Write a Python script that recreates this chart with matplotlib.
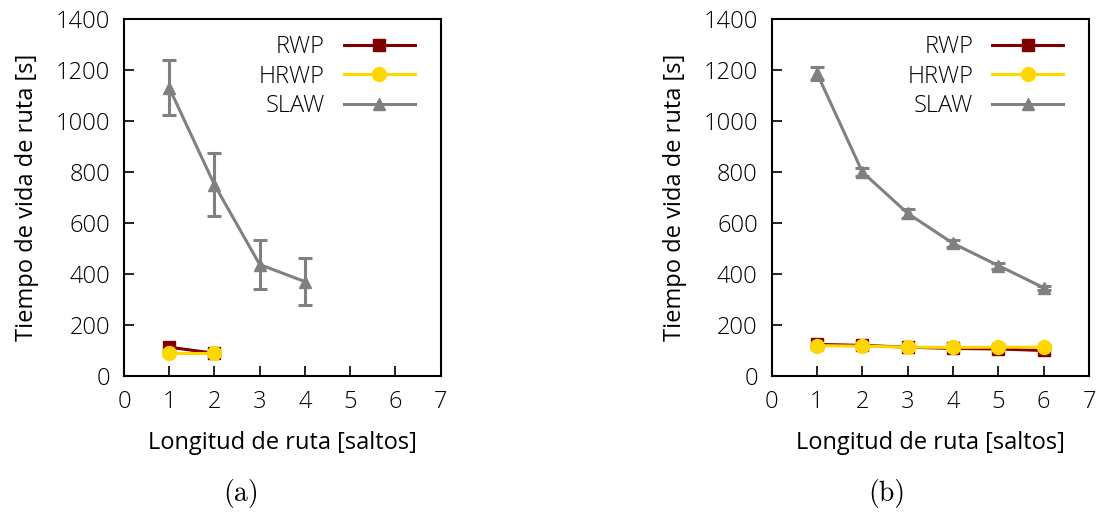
import matplotlib
matplotlib.use("Agg")
import matplotlib.pyplot as plt
from matplotlib.lines import Line2D

plt.rcParams['font.family'] = ['Open Sans', 'DejaVu Sans']
plt.rcParams['font.weight'] = 'light'

# Panel (a)
a_x_slaw = [1, 2, 3, 4]
a_slaw = [1130, 750, 437, 370]
a_slaw_err = [108, 123, 97, 92]
a_x_rwp = [1, 2]
a_rwp = [113, 89]
a_hrwp = [89, 89]

# Panel (b)
b_x = [1, 2, 3, 4, 5, 6]
b_slaw = [1187, 800, 638, 520, 433, 346]
b_slaw_err = [25, 15, 18, 15, 12, 8]
b_rwp = [124, 120, 113, 108, 106, 100]
b_hrwp = [119, 117, 113, 112, 113, 113]

xticks = [0, 1, 2, 3, 4, 5, 6, 7]
yticks = [0, 200, 400, 600, 800, 1000, 1200, 1400]
captions = ['(a)', '(b)']
series_names = ['RWP', 'HRWP', 'SLAW']

C_RWP = '#800000'
C_HRWP = '#FFD700'
C_SLAW = '#808080'

FS = 17

fig = plt.figure(figsize=(11, 5.14), dpi=100)
ax1 = fig.add_axes([0.1127, 0.2685, 0.2879, 0.6946])
ax2 = fig.add_axes([0.7015, 0.2685, 0.2885, 0.6946])

def draw(ax, xr, rwp, hrwp, xs, slaw, err, cap, capx):
    lw = 2.2
    ax.plot(xr, rwp, color=C_RWP, lw=lw, marker='s', ms=9, zorder=3)
    ax.plot(xr, hrwp, color=C_HRWP, lw=lw, marker='o', ms=10, zorder=4)
    ax.errorbar(xs, slaw, yerr=err, color=C_SLAW, lw=lw, marker='^', ms=9,
                capsize=5, capthick=lw, elinewidth=lw, zorder=2)
    handles = [
        Line2D([], [], color=C_RWP, lw=lw, marker='s', ms=9),
        Line2D([], [], color=C_HRWP, lw=lw, marker='o', ms=10),
        Line2D([], [], color=C_SLAW, lw=lw, marker='^', ms=9),
    ]
    ax.set_xlim(0, 7)
    ax.set_ylim(0, 1400)
    ax.set_xticks(xticks)
    ax.set_yticks(yticks)
    ax.tick_params(direction='in', length=7, width=1.2, labelsize=FS,
                   top=False, right=False, pad=10)
    for s in ax.spines.values():
        s.set_linewidth(1.5)
    ax.set_xlabel('Longitud de ruta [saltos]', fontsize=FS, labelpad=12)
    ax.set_ylabel('Tiempo de vida de ruta [s]', fontsize=FS, labelpad=12)
    ax.legend(handles, series_names, loc='upper right', frameon=False, fontsize=FS,
              markerfirst=False, handlelength=3.0, labelspacing=0.22,
              borderaxespad=0.3, handletextpad=0.8, bbox_to_anchor=(0.97, 1.0))
    fig.text(capx, 0.025, cap, fontsize=20, family=['cmr10', 'DejaVu Serif'],
             weight='normal', ha='center')

draw(ax1, a_x_rwp, a_rwp, a_hrwp, a_x_slaw, a_slaw, a_slaw_err, captions[0], 241 / 1100)
draw(ax2, b_x, b_rwp, b_hrwp, b_x, b_slaw, b_slaw_err, captions[1], 887 / 1100)

fig.savefig('out.png', dpi=100)
